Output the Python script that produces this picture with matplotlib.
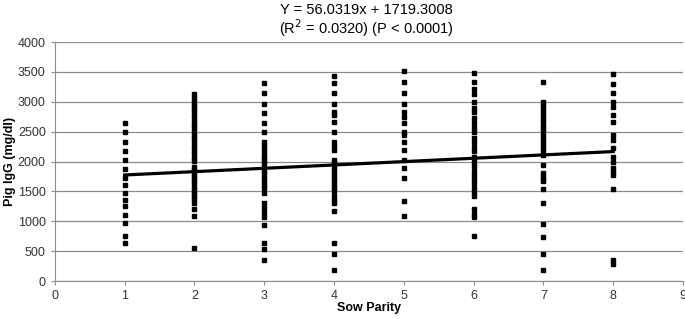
import matplotlib
matplotlib.use("Agg")
import matplotlib.pyplot as plt
import numpy as np

plt.rcParams["font.family"] = ["Liberation Sans", "DejaVu Sans"]

# IgG readings per sow parity
parity_1 = [2650, 2490, 2330, 2180, 2020, 1870, 1720, 1600, 1470, 1360, 1250, 1110, 970, 760, 640]
parity_2 = [3130, 3060, 3000, 2950, 2890, 2840, 2780, 2730, 2670, 2620, 2560, 2500, 2450,
            2390, 2340, 2280, 2230, 2170, 2120, 2060, 2010, 1910, 1860, 1800, 1750, 1690,
            1640, 1580, 1530, 1470, 1420, 1370, 1300, 1200, 1090, 550]
parity_3 = [3320, 3140, 2970, 2810, 2640, 2500, 2330, 2270, 2210, 2150, 2080, 2030, 1970,
            1910, 1850, 1790, 1730, 1670, 1610, 1550, 1480, 1310, 1220, 1140, 1080, 940,
            640, 540, 360]
parity_4 = [3430, 3320, 3140, 2970, 2830, 2780, 2670, 2500, 2330, 2260, 2200, 2030, 1970,
            1910, 1850, 1790, 1730, 1670, 1610, 1550, 1500, 1420, 1360, 1300, 1170, 640,
            460, 180]
parity_5 = [3510, 3330, 3140, 2970, 2830, 2750, 2640, 2500, 2440, 2330, 2200, 2030, 1890,
            1730, 1340, 1090]
parity_6 = [3480, 3330, 3220, 3130, 3000, 2900, 2830, 2730, 2640, 2560, 2500, 2400, 2330,
            2250, 2170, 2080, 2000, 1920, 1840, 1780, 1700, 1640, 1560, 1490, 1420, 1200,
            1130, 1080, 750]
parity_7 = [3330, 3000, 2950, 2890, 2830, 2780, 2720, 2660, 2600, 2550, 2490, 2430, 2370,
            2310, 2250, 2200, 2110, 1940, 1810, 1760, 1710, 1670, 1540, 1300, 950, 730,
            450, 180]
parity_8 = [3470, 3300, 3140, 3000, 2920, 2780, 2670, 2450, 2360, 2220, 2080, 2000, 1890,
            1830, 1780, 1540, 360, 280]

groups = [parity_1, parity_2, parity_3, parity_4, parity_5, parity_6, parity_7, parity_8]
slope, intercept = 56.0319, 1719.3008

fig = plt.figure(figsize=(6.85, 3.19), dpi=100)
ax = fig.add_axes([0.080, 0.119, 0.917, 0.749])

for i, vals in enumerate(groups):
    ax.plot(np.full(len(vals), i + 1), vals, linestyle="none", marker="s",
            markersize=2.9, color="black", zorder=3)

xs = np.array([1, 8])
ax.plot(xs, slope * xs + intercept, color="black", linewidth=2.3, zorder=4)

ax.set_xlim(0, 9)
ax.set_ylim(0, 4000)
ax.set_xticks(range(0, 10))
ax.set_yticks(range(0, 4001, 500))
ax.yaxis.grid(True, color="#8c8c8c", linewidth=0.9)
ax.set_axisbelow(True)
for side in ["top", "right"]:
    ax.spines[side].set_visible(False)
for side in ["left", "bottom"]:
    ax.spines[side].set_color("#8c8c8c")
ax.tick_params(axis="both", colors="#8c8c8c", labelcolor="#333333", labelsize=9,
               length=3, direction="out")

ax.set_xlabel("Sow Parity", fontsize=9, fontweight="bold", labelpad=0)
ax.set_ylabel("Pig IgG (mg/dl)", fontsize=9, fontweight="bold")
ax.yaxis.set_label_coords(-0.062, 0.5)

fig.text(0.535, 0.968, "Y = 56.0319x + 1719.3008", ha="center", va="center", fontsize=10.5)
fig.text(0.535, 0.912, "(R$^2$ = 0.0320) (P < 0.0001)", ha="center", va="center", fontsize=10.5)

fig.savefig("out.png", dpi=100)
